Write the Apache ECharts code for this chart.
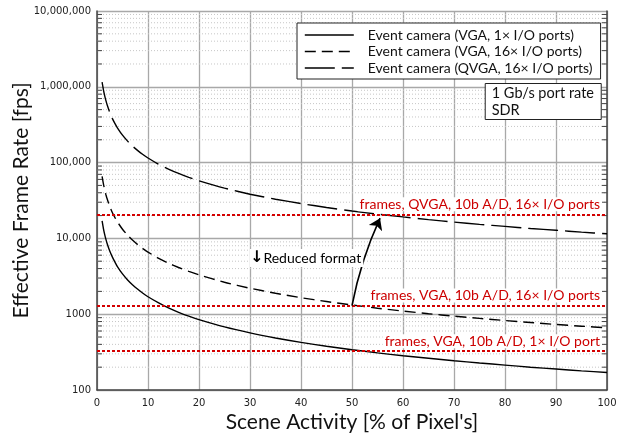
<!DOCTYPE html>
<html>
<head>
<meta charset="utf-8">
<style>
  html, body { margin: 0; padding: 0; background: #fff; }
  #chart { width: 621px; height: 434px; }
</style>
<script src="https://cdn.jsdelivr.net/npm/echarts@6/dist/echarts.min.js"></script>
</head>
<body>
<div id="chart"></div>
<script>
// Scene activity (% of pixels) at which each curve is sampled
const activity = [1, 1.25, 1.5, 1.75, 2, 2.5, 3, 3.5, 4, 5, 6, 7, 8, 9, 10, 12, 14, 16, 18, 20,
  25, 30, 35, 40, 45, 50, 55, 60, 65, 70, 75, 80, 85, 90, 95, 100];

// Effective frame rate [fps] of each event-camera configuration
const vga1Port = [17000, 13600, 11300, 9700, 8500, 6800, 5700, 4900, 4250, 3400, 2830, 2430, 2130, 1890, 1700,
  1420, 1210, 1060, 945, 850, 680, 567, 486, 425, 378, 340, 309, 283, 262, 243, 227, 213, 200, 189, 179, 170];
const vga16Port = [66000, 52800, 44000, 37700, 33000, 26400, 22000, 18900, 16500, 13200, 11000, 9430, 8250, 7330, 6600,
  5500, 4710, 4130, 3670, 3300, 2640, 2200, 1890, 1650, 1470, 1320, 1200, 1100, 1015, 943, 880, 825, 776, 733, 695, 660];
const qvga16Port = [1150000, 920000, 767000, 657000, 575000, 460000, 383000, 329000, 288000, 230000, 192000, 164000,
  144000, 128000, 115000, 95800, 82100, 71900, 63900, 57500, 46000, 38300, 32900, 28800, 25600, 23000, 20900,
  19200, 17700, 16400, 15300, 14400, 13500, 12800, 12100, 11500];

const seriesNames = [
  'Event camera (VGA, 1× I/O ports)',
  'Event camera (VGA, 16× I/O ports)',
  'Event camera (QVGA, 16× I/O ports)'
];

// Frame-based reference rates (10b A/D) and their labels
const frameRates = [20800, 1300, 325];
const frameLabels = [
  'frames, QVGA, 10b A/D, 16× I/O ports',
  'frames, VGA, 10b A/D, 16× I/O ports',
  'frames, VGA, 10b A/D, 1× I/O port'
];

// "Reduced format" arrow: from the VGA 16x crossing up to the QVGA 16x crossing
const arrowFrom = [50, 1300];
const arrowTo = [55.5, 18500];

// Y tick labels per decade
const yTickValues = [100, 1000, 10000, 100000, 1000000, 10000000];
const yTickLabels = ['100', '1000', '10,000', '100,000', '1,000,000', '10,000,000'];

// Minor log positions (2..9 within each decade)
const minorValues = [];
for (let d = 100; d < 10000000; d *= 10) {
  for (let k = 2; k <= 9; k++) minorValues.push(k * d);
}

const pairs = (ys) => activity.map((x, i) => [x, ys[i]]);

const textFont = 'Lato, "Open Sans", sans-serif';
const tickFont = '"DejaVu Sans", Verdana, sans-serif';

const chart = echarts.init(document.getElementById('chart'), null, { renderer: 'canvas' });

chart.setOption({
  animation: false,
  backgroundColor: '#fff',
  grid: { left: 97, right: 14, top: 11, bottom: 44, containLabel: false, outerBoundsMode: 'none' },
  title: {
    text: '1 Gb/s port rate\nSDR',
    right: 20,
    top: 83,
    backgroundColor: '#fff',
    borderColor: '#222',
    borderWidth: 1,
    padding: [2, 7, 1, 7],
    textStyle: { fontFamily: textFont, fontSize: 14.5, fontWeight: 'normal', color: '#111', lineHeight: 17 }
  },
  legend: {
    data: seriesNames,
    orient: 'vertical',
    left: 297,
    top: 23,
    backgroundColor: '#fff',
    borderColor: '#222',
    borderWidth: 1,
    padding: [5, 8, 4, 7],
    itemGap: 2.5,
    itemWidth: 49,
    itemHeight: 10,
    selectedMode: false,
    itemStyle: { color: 'transparent', borderWidth: 0, opacity: 0 },
    lineStyle: { width: 1.6 },
    textStyle: { fontFamily: textFont, fontSize: 14, color: '#111', padding: [0, 0, 0, 9] }
  },
  xAxis: {
    type: 'value',
    min: 0,
    max: 100,
    interval: 10,
    name: "Scene Activity [% of Pixel's]",
    nameLocation: 'middle',
    nameGap: 22,
    nameMoveOverlap: false,
    nameTextStyle: { fontFamily: textFont, fontSize: 21, color: '#111' },
    axisLine: { show: true, lineStyle: { color: '#444', width: 1.5 } },
    axisTick: { show: false },
    axisLabel: { fontFamily: tickFont, fontSize: 10, color: '#222', margin: 8 },
    splitLine: { show: true, lineStyle: { color: '#a8a8a8', width: 1.3 } }
  },
  yAxis: [{
    type: 'log',
    logBase: 10,
    min: 100,
    max: 10000000,
    splitNumber: 5,
    name: 'Effective Frame Rate [fps]',
    nameLocation: 'middle',
    nameGap: 65,
    nameMoveOverlap: false,
    nameTextStyle: { fontFamily: textFont, fontSize: 21, color: '#111' },
    axisLine: { show: true, lineStyle: { color: '#444', width: 1.5 } },
    axisTick: { show: false },
    axisLabel: {
      fontFamily: tickFont, fontSize: 10, color: '#222', margin: 6,
      formatter: (v) => {
        const i = yTickValues.findIndex((t) => Math.abs(t - v) / t < 1e-6);
        return i >= 0 ? yTickLabels[i] : '';
      }
    },
    splitLine: { show: true, lineStyle: { color: '#a8a8a8', width: 1.3 } }
  }, {
    type: 'log',
    logBase: 10,
    min: 100,
    max: 10000000,
    position: 'right',
    axisLine: { show: true, onZero: false, lineStyle: { color: '#444', width: 1.5 } },
    axisTick: { show: false },
    axisLabel: { show: false },
    splitLine: { show: false }
  }],
  series: [
    {
      // minor log grid lines plus short inward ticks on both vertical axes
      type: 'custom',
      silent: true,
      z: 1,
      encode: { x: 0, y: 1 },
      data: minorValues.map((v) => [0, v]),
      renderItem: (params, api) => {
        const v = api.value(1);
        const l = api.coord([0, v]);
        const r = api.coord([100, v]);
        return {
          type: 'group',
          children: [
            { type: 'line', shape: { x1: l[0], y1: l[1], x2: r[0], y2: r[1] },
              style: { stroke: '#c6c6c6', lineWidth: 1, lineDash: [1, 2] } },
            { type: 'line', shape: { x1: l[0], y1: l[1], x2: l[0] + 5, y2: l[1] },
              style: { stroke: '#444', lineWidth: 1 } },
            { type: 'line', shape: { x1: r[0] - 5, y1: r[1], x2: r[0], y2: r[1] },
              style: { stroke: '#444', lineWidth: 1 } }
          ]
        };
      }
    },
    {
      name: seriesNames[0],
      type: 'line',
      data: pairs(vga1Port),
      smooth: 0.2,
      symbol: 'none',
      z: 3,
      lineStyle: { color: '#000', width: 1.4, type: 'solid' },
      itemStyle: { color: '#000' }
    },
    {
      name: seriesNames[1],
      type: 'line',
      data: pairs(vga16Port),
      smooth: 0.2,
      symbol: 'none',
      z: 3,
      lineStyle: { color: '#000', width: 1.4, type: [11, 6] },
      itemStyle: { color: '#000' }
    },
    {
      name: seriesNames[2],
      type: 'line',
      data: pairs(qvga16Port),
      smooth: 0.2,
      symbol: 'none',
      z: 3,
      lineStyle: { color: '#000', width: 1.4, type: [30, 7] },
      itemStyle: { color: '#000' }
    },
    {
      // frame-based reference rates
      type: 'line',
      data: [],
      z: 4,
      markLine: {
        silent: true,
        symbol: ['none', 'none'],
        animation: false,
        lineStyle: { color: '#d40000', width: 2.2, type: [3, 2] },
        label: {
          show: true,
          position: 'insideEndTop',
          distance: [5, 3],
          color: '#cc0000',
          fontFamily: textFont,
          fontSize: 14,
          backgroundColor: '#fff',
          padding: [0, 2, 0, 2]
        },
        emphasis: { disabled: true },
        data: frameRates.map((v, i) => ({ yAxis: v, label: { formatter: frameLabels[i] } }))
      }
    },
    {
      type: 'lines',
      coordinateSystem: 'cartesian2d',
      z: 5,
      silent: true,
      symbol: ['none', 'arrow'],
      symbolSize: [0, 11],
      lineStyle: { color: '#000', width: 1.6, opacity: 1, curveness: 0.06 },
      data: [{ coords: [arrowFrom, arrowTo] }]
    }
  ],
  graphic: [{
    type: 'text',
    left: 250,
    top: 249,
    z: 10,
    style: {
      text: '{a|↓}Reduced format',
      fill: '#000',
      font: '14px ' + textFont,
      backgroundColor: '#fff',
      padding: [1, 2, 1, 0],
      rich: { a: { fontSize: 16, fontWeight: 'bold', fontFamily: '"DejaVu Sans", sans-serif' } }
    }
  }]
});
</script>
</body>
</html>
